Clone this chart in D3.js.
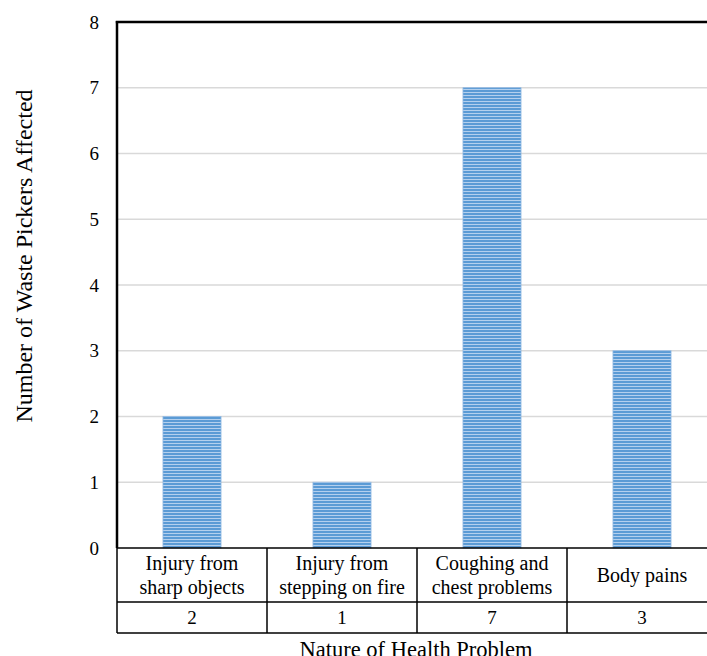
<!DOCTYPE html>
<html>
<head>
<meta charset="utf-8">
<script src="https://cdn.jsdelivr.net/npm/d3@7"></script>
<style>
  html, body { margin: 0; padding: 0; background: #fff; }
  svg { display: block; }
  text { font-family: "Liberation Serif", "Times New Roman", serif; fill: #000; }
</style>
</head>
<body>
<svg id="chart" width="707" height="656"></svg>
<script>
const categories = [
  ["Injury from", "sharp objects"],
  ["Injury from", "stepping on fire"],
  ["Coughing and", "chest problems"],
  ["Body pains"]
];
const values = [2, 1, 7, 3];
const yTicks = [0, 1, 2, 3, 4, 5, 6, 7, 8];
const yTitle = "Number of Waste Pickers Affected";
const xTitle = "Nature of Health Problem";

(function () {
const svg = d3.select("#chart");
const pL = 117, pR = 717, pT = 22, pB = 548;
const row1 = 602, row2 = 633;

const keys = categories.map((c, i) => "c" + i);
const x = d3.scaleBand().domain(keys).range([pL, pR]).paddingInner(0.613).paddingOuter(0.3065);
const xCell = d3.scaleBand().domain(keys).range([pL, pR]);
const y = d3.scaleLinear().domain([0, 8]).range([pB, pT]);

// stripe pattern
const defs = svg.append("defs");
const pat = defs.append("pattern").attr("id", "stripes").attr("patternUnits", "userSpaceOnUse")
  .attr("width", 6).attr("height", 3);
pat.append("rect").attr("width", 6).attr("height", 3).attr("fill", "#5b9bd5");
pat.append("rect").attr("y", 2).attr("width", 6).attr("height", 1).attr("fill", "#b4d0ee");

// gridlines
svg.append("g").selectAll("line").data(yTicks.filter(d => d > 0 && d < 8)).join("line")
  .attr("x1", pL).attr("x2", pR)
  .attr("y1", d => y(d)).attr("y2", d => y(d))
  .attr("stroke", "#d9d9d9").attr("stroke-width", 1.5);

// bars
svg.append("g").selectAll("rect").data(values).join("rect")
  .attr("x", (d, i) => x(keys[i]))
  .attr("width", x.bandwidth())
  .attr("y", d => y(d))
  .attr("height", d => y(0) - y(d))
  .attr("fill", "url(#stripes)")
  .attr("stroke", "#8fb8e3").attr("stroke-width", 0.8);

// y axis tick labels
const yAxis = d3.axisLeft(y).tickValues(yTicks).tickSize(0).tickPadding(18);
const ga = svg.append("g").attr("transform", `translate(${pL},0)`).call(yAxis);
ga.select(".domain").remove();
ga.selectAll("text").attr("font-size", 19).attr("font-family", "Liberation Serif, serif");

// plot frame
svg.append("line").attr("x1", pL).attr("x2", pL).attr("y1", pT - 1).attr("y2", pB)
  .attr("stroke", "#000").attr("stroke-width", 2.5);
svg.append("line").attr("x1", pL - 1.2).attr("x2", pR).attr("y1", pT).attr("y2", pT)
  .attr("stroke", "#000").attr("stroke-width", 2.5);

// table
const tg = svg.append("g");
[pB, row1, row2].forEach(yy => {
  tg.append("line").attr("x1", pL).attr("x2", pR).attr("y1", yy).attr("y2", yy)
    .attr("stroke", "#000").attr("stroke-width", 1.5);
});
tg.append("line").attr("x1", pL).attr("x2", pL).attr("y1", pB).attr("y2", row2)
  .attr("stroke", "#000").attr("stroke-width", 1.5);
keys.slice(1).forEach(k => {
  tg.append("line").attr("x1", xCell(k)).attr("x2", xCell(k)).attr("y1", pB).attr("y2", row2)
    .attr("stroke", "#000").attr("stroke-width", 1.5);
});

// category labels and values
categories.forEach((lines, i) => {
  const cx = xCell(keys[i]) + xCell.bandwidth() / 2;
  const mid = (pB + row1) / 2;
  const lh = 24;
  lines.forEach((t, j) => {
    tg.append("text").attr("x", cx).attr("y", mid + (j - (lines.length - 1) / 2) * lh)
      .attr("text-anchor", "middle").attr("dominant-baseline", "central")
      .attr("font-size", 20).text(t);
  });
  tg.append("text").attr("x", cx).attr("y", (row1 + row2) / 2)
    .attr("text-anchor", "middle").attr("dominant-baseline", "central")
    .attr("font-size", 19).text(values[i]);
});

// titles
svg.append("text").attr("x", 416).attr("y", 649)
  .attr("text-anchor", "middle").attr("dominant-baseline", "central")
  .attr("font-size", 22.5).text(xTitle);
svg.append("text").attr("transform", "translate(24,256) rotate(-90)")
  .attr("text-anchor", "middle").attr("dominant-baseline", "central")
  .attr("font-size", 24).text(yTitle);
})();
</script>
</body>
</html>
